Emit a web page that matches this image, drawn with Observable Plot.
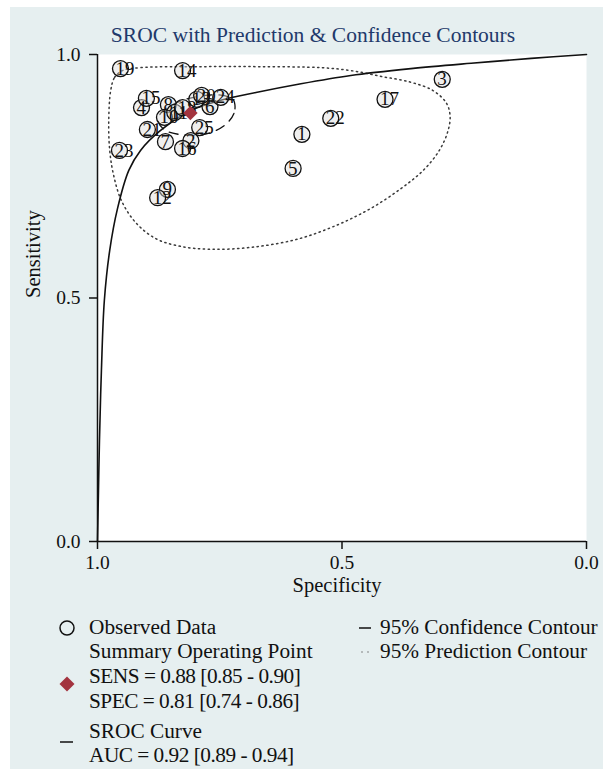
<!DOCTYPE html>
<html>
<head>
<meta charset="utf-8">
<script src="https://cdn.jsdelivr.net/npm/d3@7"></script>
<script src="https://cdn.jsdelivr.net/npm/@observablehq/plot@0.6"></script>
<style>
  body { margin: 0; background: #ffffff; font-family: "Liberation Serif", "DejaVu Serif", serif; }
  #panel { position: absolute; left: 10px; top: 7px; width: 593px; height: 762px; background: #e6eff0; }
  #title { position: absolute; left: 0; width: 626px; top: 23px; line-height: 24px; text-align: center;
           font-size: 21.5px; color: #22396b; }
  #chart { position: absolute; left: 0; top: 0; }
  .lg { position: absolute; font-size: 21.3px; line-height: 24px; color: #111; white-space: nowrap; }
  .num { letter-spacing: -0.5px; }
  .sym { position: absolute; }
</style>
</head>
<body>
<div id="panel"></div>
<div id="title">SROC with Prediction &amp; Confidence Contours</div>
<div id="chart"></div>
<div id="legend"></div>
<script>
// Study-level estimates (study id, specificity, sensitivity)
const studies = ["1","2","3","4","5","6","7","8","9","10","11","12","13","14","15","16","17","18","19","20","21","22","23","24","25"];
const specificity = [0.582,0.809,0.295,0.910,0.600,0.770,0.861,0.855,0.857,0.863,0.842,0.877,0.797,0.826,0.900,0.826,0.412,0.826,0.953,0.787,0.898,0.523,0.955,0.748,0.791];
const sensitivity = [0.836,0.823,0.949,0.891,0.766,0.893,0.821,0.897,0.723,0.871,0.881,0.706,0.908,0.967,0.910,0.807,0.908,0.891,0.971,0.916,0.846,0.869,0.803,0.912,0.850];

// Summary operating point
const summarySens = 0.88;
const summarySpec = 0.81;

// SROC curve
const srocSpec = [1.000,0.998,0.996,0.992,0.986,0.975,0.959,0.936,0.912,0.871,0.809,0.748,0.676,0.584,0.482,0.359,0.236,0.113,0.000];
const srocSens = [0.000,0.105,0.207,0.351,0.495,0.598,0.684,0.762,0.803,0.844,0.885,0.906,0.922,0.940,0.957,0.971,0.982,0.992,1.000];

// 95% prediction contour
const predSpec = [0.973,0.965,0.949,0.912,0.789,0.666,0.543,0.482,0.420,0.359,0.314,0.287,0.279,0.283,0.301,0.334,0.379,0.441,0.512,0.594,0.686,0.768,0.830,0.881,0.922,0.951,0.967,0.975,0.977];
const predSens = [0.926,0.953,0.967,0.973,0.975,0.975,0.973,0.967,0.955,0.943,0.926,0.901,0.875,0.844,0.803,0.762,0.725,0.684,0.649,0.620,0.604,0.600,0.606,0.622,0.655,0.700,0.752,0.803,0.864];

// 95% confidence contour
const confSpec = [0.719,0.721,0.736,0.762,0.797,0.834,0.861,0.875,0.871,0.850,0.820,0.779,0.744,0.723];
const confSens = [0.897,0.879,0.858,0.842,0.834,0.836,0.844,0.860,0.879,0.895,0.908,0.916,0.916,0.908];

const tickValues = [1.0, 0.5, 0.0];

const obs = studies.map((id, i) => ({id, spec: specificity[i], sens: sensitivity[i]}));
const sroc = srocSpec.map((s, i) => ({spec: s, sens: srocSens[i]}));
const pred = predSpec.map((s, i) => ({spec: s, sens: predSens[i]}));
const conf = confSpec.map((s, i) => ({spec: s, sens: confSens[i]}));
const fmt = d3.format(".1f");

const chart = Plot.plot({
  width: 603,
  height: 600,
  marginLeft: 97,
  marginRight: 17,
  marginTop: 54,
  marginBottom: 59,
  style: {background: "transparent", fontFamily: "Liberation Serif, serif", fontSize: "19px", color: "#111", overflow: "visible"},
  x: {domain: [1, 0]},
  y: {domain: [0, 1]},
  marks: [
    Plot.frame({fill: "white", stroke: null}),
    Plot.line(pred, {x: "spec", y: "sens", curve: "catmull-rom-closed", stroke: "#3a3a3a", strokeWidth: 1.5, strokeDasharray: "1.3,3.6"}),
    Plot.line(conf, {x: "spec", y: "sens", curve: "catmull-rom-closed", stroke: "#111", strokeWidth: 1.3, strokeDasharray: "9,7"}),
    Plot.line(sroc, {x: "spec", y: "sens", curve: "catmull-rom", stroke: "#111", strokeWidth: 1.6}),
    Plot.dot(obs, {x: "spec", y: "sens", r: 8, stroke: "#111", strokeWidth: 1.3, fill: "#dcdcdc", fillOpacity: 0.45}),
    Plot.text(obs, {x: "spec", y: "sens", text: "id", textAnchor: "start", dx: -5, fontSize: 19, fill: "#111"}),
    Plot.dot([{spec: summarySpec, sens: summarySens}], {x: "spec", y: "sens", symbol: "diamond2", r: 6.5, fill: "#a3343f", stroke: null}),
    Plot.ruleX([1], {stroke: "#111", strokeWidth: 1.5}),
    Plot.ruleY([0], {stroke: "#111", strokeWidth: 1.5}),
    Plot.axisY({ticks: tickValues, tickFormat: fmt, tickSize: 8, tickPadding: 9, label: null, strokeWidth: 1.5, fontSize: 19.5}),
    Plot.axisX({ticks: tickValues, tickFormat: fmt, tickSize: 8, tickPadding: 6, label: null, strokeWidth: 1.5, fontSize: 19.5}),
    Plot.text(["Specificity"], {frameAnchor: "bottom", dy: 44, dx: -5, fontSize: 20.5, lineAnchor: "middle", fill: "#111"}),
    Plot.text(["Sensitivity"], {frameAnchor: "left", dx: -64, rotate: -90, fontSize: 20.5, lineAnchor: "middle", fill: "#111"})
  ]
});
document.getElementById("chart").appendChild(chart);

// Legend below the plot
const legendItems = [
  {text: "Observed Data", x: 89, y: 627},
  {text: "Summary Operating Point", x: 89, y: 651},
  {text: "SENS = 0.88 [0.85 - 0.90]", x: 89, y: 676, num: true},
  {text: "SPEC = 0.81 [0.74 - 0.86]", x: 89, y: 701, num: true},
  {text: "SROC Curve", x: 89, y: 731},
  {text: "AUC = 0.92 [0.89 - 0.94]", x: 89, y: 755, num: true},
  {text: "95% Confidence Contour", x: 380, y: 627},
  {text: "95% Prediction Contour", x: 380, y: 651}
];
const legend = document.getElementById("legend");
for (const it of legendItems) {
  const d = document.createElement("div");
  d.className = it.num ? "lg num" : "lg";
  d.style.left = it.x + "px";
  d.style.top = (it.y - 12) + "px";
  d.textContent = it.text;
  legend.appendChild(d);
}
const ns = "http://www.w3.org/2000/svg";
function symbol(x, y, w, h, inner) {
  const s = document.createElementNS(ns, "svg");
  s.setAttribute("class", "sym");
  s.setAttribute("width", w);
  s.setAttribute("height", h);
  s.style.left = (x - w / 2) + "px";
  s.style.top = (y - h / 2) + "px";
  s.innerHTML = inner;
  legend.appendChild(s);
}
symbol(67, 628, 20, 20, '<circle cx="10" cy="10" r="7" fill="none" stroke="#111" stroke-width="1.5"/>');
symbol(67, 684, 20, 20, '<path d="M10,2.5L17.5,10L10,17.5L2.5,10Z" fill="#a3343f"/>');
symbol(67, 742, 20, 10, '<line x1="3" x2="16" y1="5" y2="5" stroke="#111" stroke-width="1.5"/>');
symbol(366, 628, 20, 10, '<line x1="3" x2="15" y1="5" y2="5" stroke="#111" stroke-width="1.5"/>');
symbol(366, 652, 20, 10, '<circle cx="6" cy="5" r="0.8" fill="#777"/><circle cx="12" cy="5" r="0.8" fill="#777"/>');
</script>
</body>
</html>
